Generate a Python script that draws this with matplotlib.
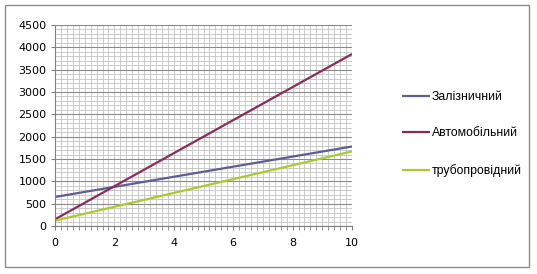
import matplotlib
matplotlib.use("Agg")
import matplotlib.pyplot as plt
from matplotlib.ticker import MultipleLocator
from matplotlib.patches import Rectangle

x = [0, 10]
rail = [650, 1780]
auto = [150, 3850]
pipe = [120, 1670]
labels = ["Залізничний", "Автомобільний", "трубопровідний"]
colors = ["#5c5f96", "#8e2a5a", "#a6cc2e"]

W, H = 537, 274
fig = plt.figure(figsize=(W / 100, H / 100), dpi=100)
ax = fig.add_axes([55 / W, 1 - 226 / H, (352 - 55) / W, (226 - 25) / H])

for ys, lab, c in zip([rail, auto, pipe], labels, colors):
    ax.plot(x, ys, color=c, lw=1.6, label=lab, solid_capstyle="butt")

ax.set_xlim(0, 10)
ax.set_ylim(0, 4500)
ax.xaxis.set_major_locator(MultipleLocator(2))
ax.xaxis.set_minor_locator(MultipleLocator(0.2))
ax.yaxis.set_major_locator(MultipleLocator(500))
ax.yaxis.set_minor_locator(MultipleLocator(100))
ax.grid(which="minor", color="#c4c4c4", lw=0.6)
ax.grid(which="major", axis="y", color="#8a8a8a", lw=0.8)
ax.grid(which="major", axis="x", color="#c4c4c4", lw=0.6)
ax.set_axisbelow(True)
for s in ["top", "right"]:
    ax.spines[s].set_visible(False)
for s in ["left", "bottom"]:
    ax.spines[s].set_color("#808080")
    ax.spines[s].set_linewidth(0.8)
ax.tick_params(axis="both", which="major", labelsize=8, color="#808080", length=3, width=0.8, pad=3)
ax.tick_params(axis="x", which="minor", color="#808080", length=3, width=0.6)
ax.tick_params(axis="y", which="minor", length=0)
ax.tick_params(axis="x", pad=6)

leg = fig.legend(loc="upper left", bbox_to_anchor=(391 / W, 1 - 80 / H), frameon=False,
                 handlelength=2.3, handletextpad=0.15, labelspacing=2.0,
                 prop={"family": "Liberation Sans", "size": 8.8})

fig.patches.append(Rectangle((5 / W, 1 - 267 / H), (529 - 5) / W, (267 - 5) / H,
                             transform=fig.transFigure, fill=False, ec="#8c8c8c", lw=1))

fig.savefig("out.png", dpi=100)
